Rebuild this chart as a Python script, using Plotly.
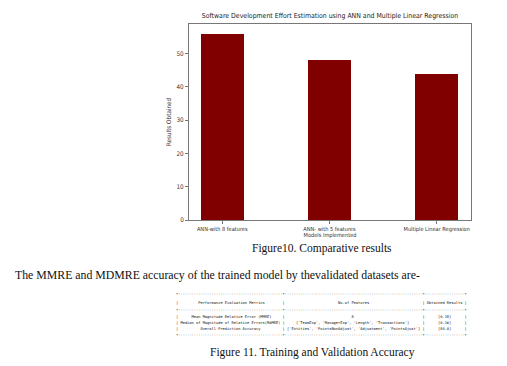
import plotly.graph_objects as go

# ---- data ----
models = ["ANN-with 8 features", "ANN- with 5 features", "Multiple Linear Regression"]
results = [56.0, 48.0, 44.0]
y_ticks = [0, 10, 20, 30, 40, 50]

metric_names = ["Mean Magnitude Relative Error (MMRE)",
                "Median of Magnitude of Relative Errors(MdMRE)",
                "Overall Prediction Accuracy"]
feature_texts = ["8",
                 "['TeamExp', 'ManagerExp', 'Length', 'Transactions']",
                 "['Entities', 'PointsNonAdjust', 'Adjustment', 'PointsAjust']"]
obtained = ["[0.18]", "[0.16]", "[84.0]"]
table_headers = ["Performance Evaluation Metrics", "No.of Features", "Obtained Results"]

W, H = 507, 366
def px(x):
    return x / W
def py(y):
    return 1 - y / H

fig = go.Figure()
fig.add_trace(go.Bar(
    x=list(range(len(models))), y=results, width=0.4,
    marker=dict(color="#800000", line=dict(width=0)),
))

sans = "DejaVu Sans Condensed, Liberation Sans Narrow, DejaVu Sans"
tick_font = dict(family=sans, size=5.6, color="#333")
ytick_font = dict(family=sans, size=6.3, color="#333")
fig.update_layout(
    width=W, height=H,
    margin=dict(l=0, r=0, t=0, b=0),
    paper_bgcolor="white", plot_bgcolor="white",
    showlegend=False,
    bargap=0,
    title=dict(text="Software Development Effort Estimation using ANN and Multiple Linear Regression",
               x=330 / W, xanchor="center", y=py(16), yanchor="middle",
               font=dict(family=sans, size=6.9, color="#222")),
    xaxis=dict(domain=[px(189), px(471)], range=[-0.31, 2.32],
               tickvals=list(range(len(models))), ticktext=models,
               showline=True, mirror=True, linecolor="#777", linewidth=1,
               ticks="outside", ticklen=3, tickcolor="#777", showgrid=False, zeroline=False,
               tickfont=tick_font,
               title=dict(text="Models Implemented", font=tick_font, standoff=1)),
    yaxis=dict(domain=[py(222), py(24)], range=[0, 58.85],
               tickvals=y_ticks,
               showline=True, mirror=True, linecolor="#777", linewidth=1,
               ticks="outside", ticklen=3, tickcolor="#777", showgrid=False, zeroline=False,
               tickfont=ytick_font,
               title=dict(text="Results Obtained", font=ytick_font, standoff=4)),
)

serif = dict(family="Liberation Serif, Times New Roman, serif", size=11.5, color="#111")
fig.add_annotation(text="Figure10. Comparative results", x=px(322), y=py(251),
                   xref="paper", yref="paper", xanchor="center", yanchor="middle",
                   showarrow=False, font=serif)
fig.add_annotation(text="The MMRE and MDMRE accuracy of the trained model by thevalidated datasets are-",
                   x=px(13), y=py(277.5), xref="paper", yref="paper", xanchor="left", yanchor="middle",
                   showarrow=False, font=dict(serif, size=11.8))
fig.add_annotation(text="Figure 11. Training and Validation Accuracy", x=px(312), y=py(355),
                   xref="paper", yref="paper", xanchor="center", yanchor="middle",
                   showarrow=False, font=serif)

# ---- pretty-table style block ----
c1 = max(len(s) for s in metric_names + [table_headers[0]]) + 2
c2 = max(len(s) for s in feature_texts + [table_headers[1]]) + 2
c3 = max(len(s) for s in obtained + [table_headers[2]]) + 2
border = "+" + "-" * c1 + "+" + "-" * c2 + "+" + "-" * c3 + "+"
def row(a, b, c):
    return "|" + a.center(c1) + "|" + b.center(c2) + "|" + c.center(c3) + "|"
lines = [(border, 296), (row(*table_headers), 305), (border, 313)]
for i, (a, b, c) in enumerate(zip(metric_names, feature_texts, obtained)):
    lines.append((row(a, b, c), 320 + 6 * i))
lines.append((border, 338))
mono = dict(family="DejaVu Sans Mono, monospace", size=3.7, color="#111")
for text, y in lines:
    fig.add_annotation(text=text.replace(" ", "&nbsp;"), x=px(174), y=py(y), xref="paper", yref="paper",
                       xanchor="left", yanchor="middle", showarrow=False, font=mono)

fig.write_html("out.html", config={"displayModeBar": False},
               post_script="document.body.style.margin='0';document.body.style.overflow='hidden';")
